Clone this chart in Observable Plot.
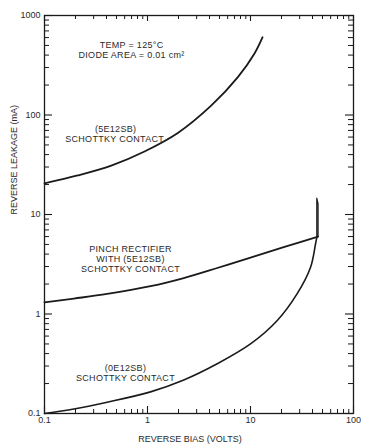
<!DOCTYPE html>
<html>
<head>
<meta charset="utf-8">
<script src="https://cdn.jsdelivr.net/npm/d3@7"></script>
<script src="https://cdn.jsdelivr.net/npm/@observablehq/plot@0.6"></script>
<style>
  html, body { margin: 0; padding: 0; background: #fff; }
  svg { display: block; }
</style>
</head>
<body>
<div id="chart"></div>
<script>
// ---- Data ----
// Reverse bias (V) and reverse leakage (mA)
const schottky5X = [0.1, 0.21, 0.445, 0.935, 1.97, 4.15, 7.54, 10.9, 13.1];
const schottky5Y = [20.6, 24.7, 31, 43, 66, 124, 240, 412, 605];

const pinchX = [0.1, 0.193, 0.406, 1.07, 2.25, 4.75, 10, 21, 45.3];
const pinchY = [1.31, 1.43, 1.59, 1.905, 2.30, 2.90, 3.69, 4.70, 6.0];

const spikeX = [44.0, 44.0, 45.3, 45.3];
const spikeY = [5.9, 14.6, 12.8, 6.0];

const schottky0X = [0.1, 0.193, 0.406, 1.07, 2.25, 4.75, 10, 18.2, 28.4, 38.3, 42.8, 44.0];
const schottky0Y = [0.1, 0.111, 0.13, 0.165, 0.217, 0.316, 0.50, 0.86, 1.60, 2.95, 5.07, 5.9];

const xTickLabels = [0.1, 1, 10, 100];
const yTickLabels = [0.1, 1, 10, 100, 1000];

const labelText = ["TEMP = 125°C", "DIODE AREA = 0.01 cm²", "(5E12SB)", "SCHOTTKY CONTACT",
  "PINCH RECTIFIER", "WITH (5E12SB)", "SCHOTTKY CONTACT", "(0E12SB)", "SCHOTTKY CONTACT"];
const labelX = [0.70, 0.70, 0.49, 0.48, 0.684, 0.684, 0.684, 0.611, 0.611];
const labelY = [502, 396, 71.5, 56.7, 4.45, 3.53, 2.80, 0.285, 0.226];

const xTitle = "REVERSE BIAS (VOLTS)";
const yTitle = "REVERSE LEAKAGE (mA)";

// ---- Build tables ----
const zip = (xs, ys) => xs.map((x, i) => ({x, y: ys[i]}));
const s5 = zip(schottky5X, schottky5Y);
const pr = zip(pinchX, pinchY);
const sp = zip(spikeX, spikeY);
const s0 = zip(schottky0X, schottky0Y);
const labels = labelText.map((t, i) => ({t, x: labelX[i], y: labelY[i]}));

const minorX = [0.1, 1, 10].flatMap(d => [2,3,4,5,6,7,8,9].map(k => +(k * d).toPrecision(3)));
const minorY = [0.1, 1, 10, 100].flatMap(d => [2,3,4,5,6,7,8,9].map(k => +(k * d).toPrecision(3)));

const W = 365, H = 447, mL = 44, mR = 12, mT = 15, mB = 34;
const fw = W - mL - mR, fh = H - mT - mB;
const ink = "#1a1a1a";
const txt = "#2a2a2a";

const chart = Plot.plot({
  width: W,
  height: H,
  marginLeft: mL, marginRight: mR, marginTop: mT, marginBottom: mB,
  style: {fontFamily: "'Liberation Sans', Arial, sans-serif", fontSize: "9px", background: "#fff", color: txt},
  x: {type: "log", domain: [0.1, 100], axis: null},
  y: {type: "log", domain: [0.1, 1000], axis: null},
  marks: [
    // ticks (inward)
    Plot.tickX(xTickLabels, {x: d => d, insetTop: fh - 7, stroke: ink, strokeWidth: 1.1}),
    Plot.tickX(minorX, {x: d => d, insetTop: fh - 4, stroke: ink, strokeWidth: 1}),
    Plot.tickX(xTickLabels, {x: d => d, insetBottom: fh - 6, stroke: ink, strokeWidth: 1.1}),
    Plot.tickX(minorX, {x: d => d, insetBottom: fh - 4, stroke: ink, strokeWidth: 1}),
    Plot.tickY(yTickLabels, {y: d => d, insetRight: fw - 8, stroke: ink, strokeWidth: 1.1}),
    Plot.tickY(minorY, {y: d => d, insetRight: fw - 5, stroke: ink, strokeWidth: 1}),
    Plot.tickY(yTickLabels, {y: d => d, insetLeft: fw - 8, stroke: ink, strokeWidth: 1.1}),
    Plot.tickY(minorY, {y: d => d, insetLeft: fw - 5, stroke: ink, strokeWidth: 1}),
    Plot.frame({stroke: ink, strokeWidth: 1.3}),
    // tick labels
    Plot.text(xTickLabels, {x: d => d, text: d => String(d), frameAnchor: "bottom", lineAnchor: "middle", dy: 7, fill: txt, fontSize: 9}),
    Plot.text(yTickLabels, {y: d => d, text: d => String(d), frameAnchor: "left", dx: -4, textAnchor: "end", fill: txt, fontSize: 9}),
    // axis titles
    Plot.text([xTitle], {text: d => d, frameAnchor: "bottom", lineAnchor: "middle", dx: -9, dy: 26, fill: txt, fontSize: 9}),
    Plot.text([yTitle], {text: d => d, frameAnchor: "left", dx: -30, rotate: -90, fill: txt, fontSize: 9}),
    // curves
    Plot.line(s5, {x: "x", y: "y", curve: "catmull-rom", stroke: ink, strokeWidth: 1.8}),
    Plot.line(pr, {x: "x", y: "y", curve: "catmull-rom", stroke: ink, strokeWidth: 1.8}),
    Plot.line(s0, {x: "x", y: "y", curve: "catmull-rom", stroke: ink, strokeWidth: 1.6}),
    Plot.line(sp, {x: "x", y: "y", curve: "linear", stroke: ink, strokeWidth: 1.2}),
    // annotations
    Plot.text(labels, {x: "x", y: "y", text: "t", fill: txt, fontSize: 9})
  ]
});
// slightly wider letter spacing for the in-plot annotations, as in the reference
chart.querySelectorAll("text").forEach(t => {
  if (labelText.includes(t.textContent)) t.style.letterSpacing = "0.3px";
});
document.getElementById("chart").appendChild(chart);
</script>
</body>
</html>
